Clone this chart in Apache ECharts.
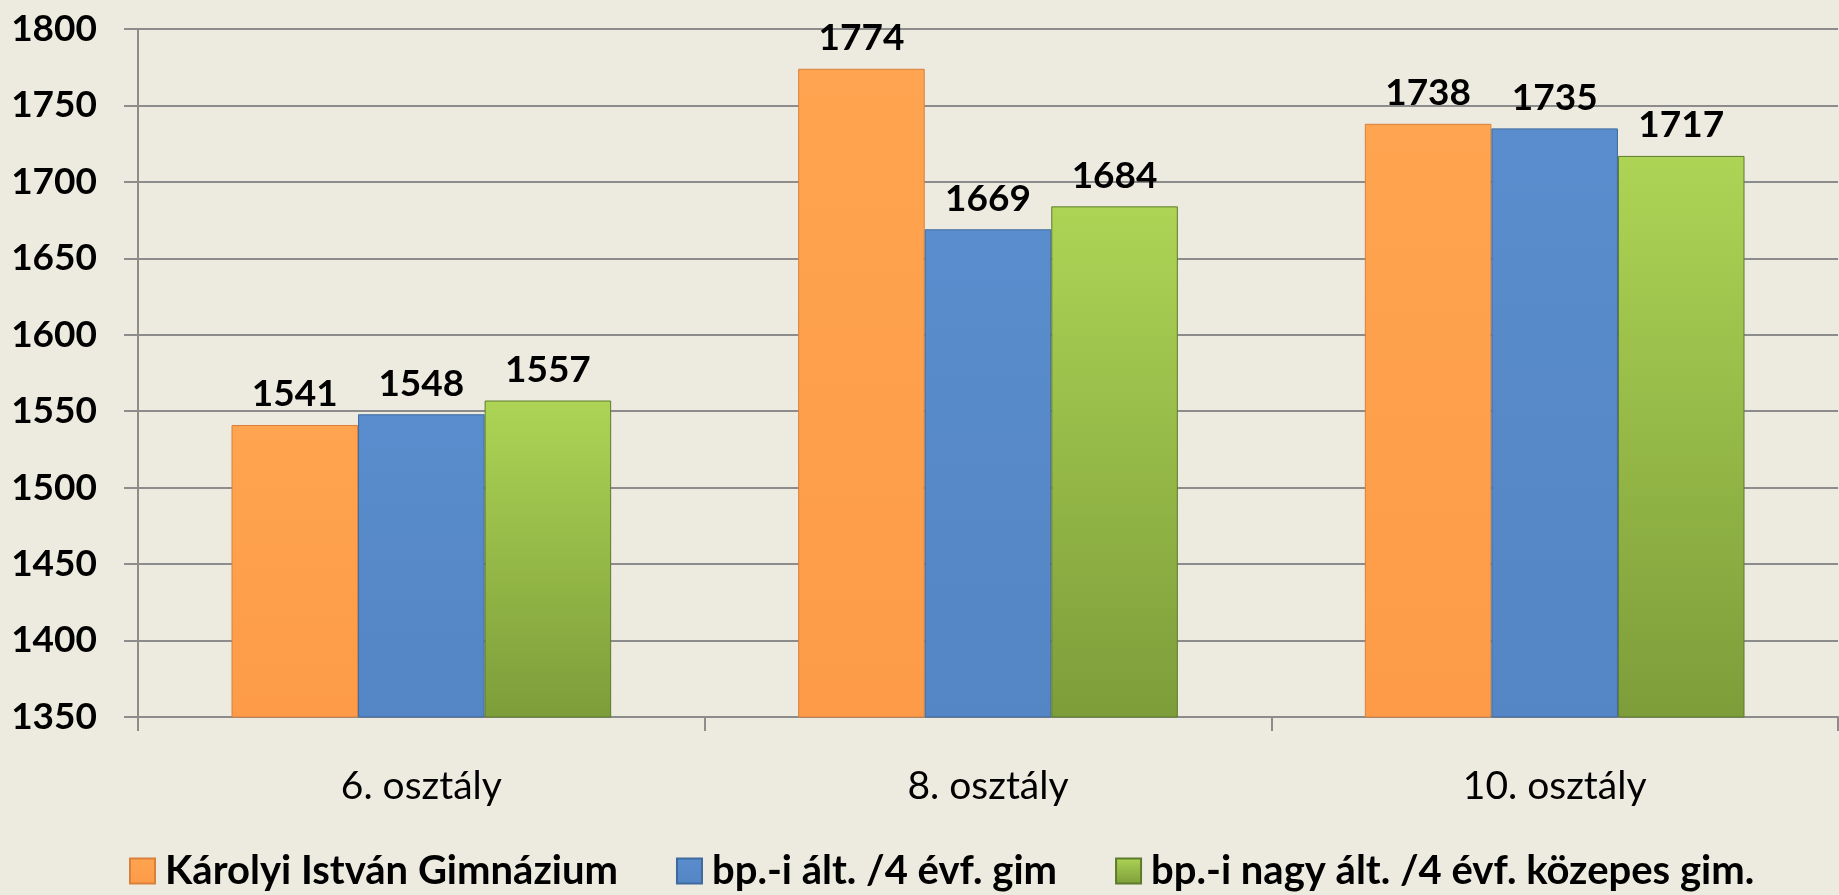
<!DOCTYPE html>
<html>
<head>
<meta charset="utf-8">
<script src="https://cdn.jsdelivr.net/npm/echarts@6/dist/echarts.min.js"></script>
<style>
html,body{margin:0;padding:0;background:#EDEBE0;}
#chart{width:1839px;height:895px;}
</style>
</head>
<body>
<div id="chart"></div>
<script>
var categories = ['6. osztály', '8. osztály', '10. osztály'];
var seriesNames = ['Károlyi István Gimnázium', 'bp.-i ált. /4 évf. gim', 'bp.-i nagy ált. /4 évf. közepes gim.'];
var karolyi = [1541, 1774, 1738];
var bpAlt = [1548, 1669, 1735];
var bpNagy = [1557, 1684, 1717];
var yMin = 1350, yMax = 1800, yStep = 50;

var FONT = 'Lato';
function grad(top, bottom) {
  return new echarts.graphic.LinearGradient(0, 0, 0, 1, [
    {offset: 0, color: top}, {offset: 1, color: bottom}
  ]);
}
var styles = [
  {color: grad('#FFA450', '#FD9B48'), borderColor: '#D9803A'},
  {color: grad('#5A8DCD', '#5485C4'), borderColor: '#3F6A9E'},
  {color: grad('#ADD455', '#7D9D3A'), borderColor: '#5E7A2B'}
];
var dataSets = [karolyi, bpAlt, bpNagy];

var chart = echarts.init(document.getElementById('chart'), null, {renderer: 'canvas'});
chart.setOption({
  backgroundColor: '#EDEBE0',
  animation: false,
  grid: {left: 138, right: 1, top: 29, bottom: 178, containLabel: false},
  legend: {
    left: 129, top: 851, padding: 0,
    itemWidth: 25, itemHeight: 25, itemGap: 58,
    icon: 'rect',
    textStyle: {fontFamily: FONT, fontWeight: 'bold', fontSize: 40, color: '#000', padding: [0, 0, 0, 5]},
    data: seriesNames
  },
  xAxis: {
    type: 'category',
    data: categories,
    axisLine: {lineStyle: {color: '#8C8C8C', width: 2}},
    axisTick: {show: true, length: 14, lineStyle: {color: '#8C8C8C', width: 2}},
    axisLabel: {fontFamily: FONT, fontSize: 39, color: '#000', margin: 50}
  },
  yAxis: {
    type: 'value',
    min: yMin, max: yMax, interval: yStep,
    axisLine: {show: true, lineStyle: {color: '#8C8C8C', width: 2}},
    axisTick: {show: true, length: 14, lineStyle: {color: '#8C8C8C', width: 2}},
    splitLine: {lineStyle: {color: '#8C8C8C', width: 2}},
    axisLabel: {
      fontFamily: FONT, fontWeight: 'bold', fontSize: 37, color: '#000', margin: 41,
      formatter: function (v) { return String(v); }
    }
  },
  series: dataSets.map(function (d, i) {
    return {
      name: seriesNames[i],
      type: 'bar',
      data: d,
      barGap: '0%',
      barCategoryGap: '33%',
      itemStyle: {color: styles[i].color, borderColor: styles[i].borderColor, borderWidth: 1},
      label: {
        show: true, position: 'top', distance: 12,
        fontFamily: FONT, fontWeight: 'bold', fontSize: 37, color: '#000'
      }
    };
  })
});
</script>
</body>
</html>
